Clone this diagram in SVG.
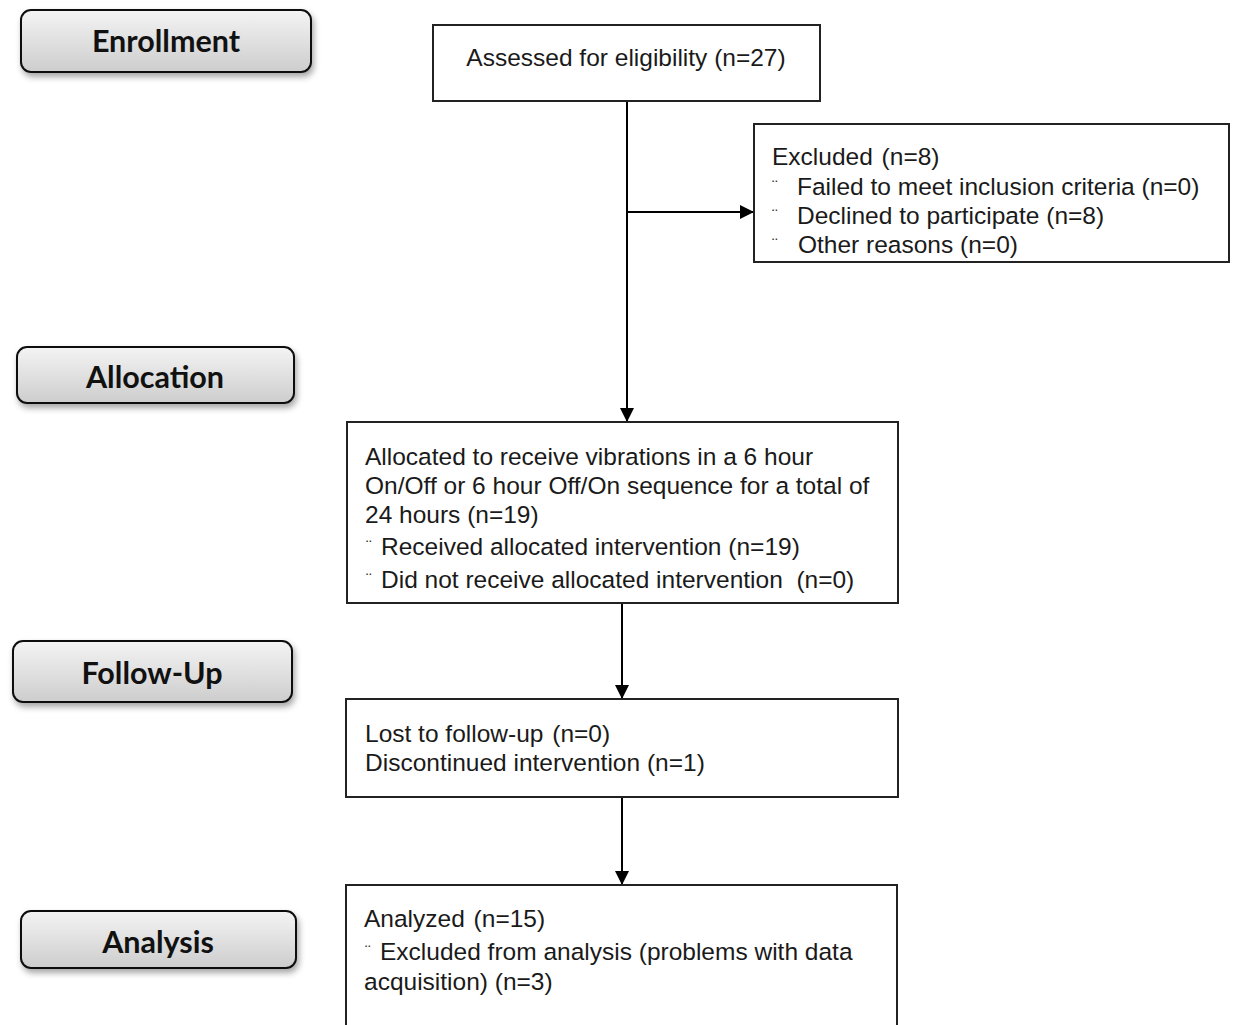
<svg xmlns="http://www.w3.org/2000/svg" width="1233" height="1025" viewBox="0 0 1233 1025">
<defs>
<linearGradient id="btn" x1="0" y1="0" x2="0" y2="1">
<stop offset="0" stop-color="#f4f4f4"/>
<stop offset="1" stop-color="#cdcdcd"/>
</linearGradient>
<filter id="sh" x="-10%" y="-30%" width="120%" height="170%">
<feDropShadow dx="2" dy="4" stdDeviation="3" flood-color="#000" flood-opacity="0.35"/>
</filter>
<marker id="ah" markerWidth="14" markerHeight="14" refX="14" refY="7" orient="auto" markerUnits="userSpaceOnUse">
<path d="M0,0 L14,7 L0,14 Z" fill="#000"/>
</marker>
</defs>
<style>
.btn{fill:url(#btn);stroke:#111;stroke-width:2;filter:url(#sh)}
.lbl{font-family:Lato,"Open Sans","DejaVu Sans",sans-serif;font-weight:bold;font-size:30.5px;fill:#111;text-anchor:middle}
.box{fill:#fff;stroke:#222;stroke-width:2}
.t{font-family:"Liberation Sans",Arial,sans-serif;font-size:24.5px;fill:#1a1a1a;white-space:pre}
.b{font-family:"Liberation Sans",Arial,sans-serif;font-size:17px;fill:#333}
.c{fill:none;stroke:#000;stroke-width:2}
</style>
<g id="stage-enrollment"><rect class="btn" x="21" y="10" width="290" height="62" rx="10"/><text class="lbl" x="166" y="52">Enrollment</text></g>
<g id="stage-allocation"><rect class="btn" x="17" y="347" width="277" height="56" rx="10"/><text class="lbl" x="155" y="388">Allocation</text></g>
<g id="stage-followup"><rect class="btn" x="13" y="641" width="279" height="61" rx="10"/><text class="lbl" x="152" y="684">Follow-Up</text></g>
<g id="stage-analysis"><rect class="btn" x="21" y="911" width="275" height="57" rx="10"/><text class="lbl" x="158" y="953">Analysis</text></g>

<g id="connectors">
<line class="c" x1="627" y1="101" x2="627" y2="422" marker-end="url(#ah)"/>
<line class="c" x1="627" y1="212" x2="754" y2="212" marker-end="url(#ah)"/>
<line class="c" x1="622" y1="603" x2="622" y2="699" marker-end="url(#ah)"/>
<line class="c" x1="622" y1="797" x2="622" y2="885" marker-end="url(#ah)"/>
</g>

<g id="assessed"><rect class="box" x="433" y="25" width="387" height="76"/><text class="t" x="626" y="66" text-anchor="middle">Assessed for eligibility (n=27)</text></g>

<g id="excluded"><rect class="box" x="754" y="124" width="475" height="138"/>
<text class="t" x="772" y="165">Excluded <tspan dx="2">(n=8)</tspan></text>
<text class="b" x="772" y="192">¨</text><text class="t" x="797" y="195">Failed to meet inclusion criteria (n=0)</text>
<text class="b" x="772" y="221">¨</text><text class="t" x="797" y="224">Declined to participate (n=8)</text>
<text class="b" x="772" y="250">¨</text><text class="t" x="798" y="253">Other reasons (n=0)</text>
</g>

<g id="allocated"><rect class="box" x="347" y="422" width="551" height="181"/>
<text class="t" x="365" y="465">Allocated to receive vibrations in a 6 hour</text>
<text class="t" x="365" y="494">On/Off or 6 hour Off/On sequence for a total of</text>
<text class="t" x="365" y="523">24 hours (n=19)</text>
<text class="b" x="366" y="552">¨</text><text class="t" x="381" y="555">Received allocated intervention (n=19)</text>
<text class="b" x="366" y="585">¨</text><text class="t" x="381" y="588">Did not receive allocated intervention  (n=0)</text>
</g>

<g id="followup"><rect class="box" x="346" y="699" width="552" height="98"/>
<text class="t" x="365" y="742">Lost to follow-up <tspan dx="2">(n=0)</tspan></text>
<text class="t" x="365" y="771">Discontinued intervention (n=1)</text>
</g>

<g id="analyzed"><rect class="box" x="346" y="885" width="551" height="150"/>
<text class="t" x="364" y="927">Analyzed <tspan dx="2">(n=15)</tspan></text>
<text class="b" x="365" y="957">¨</text><text class="t" x="380" y="960">Excluded from analysis (problems with data</text>
<text class="t" x="364" y="990">acquisition) (n=3)</text>
</g>
</svg>
